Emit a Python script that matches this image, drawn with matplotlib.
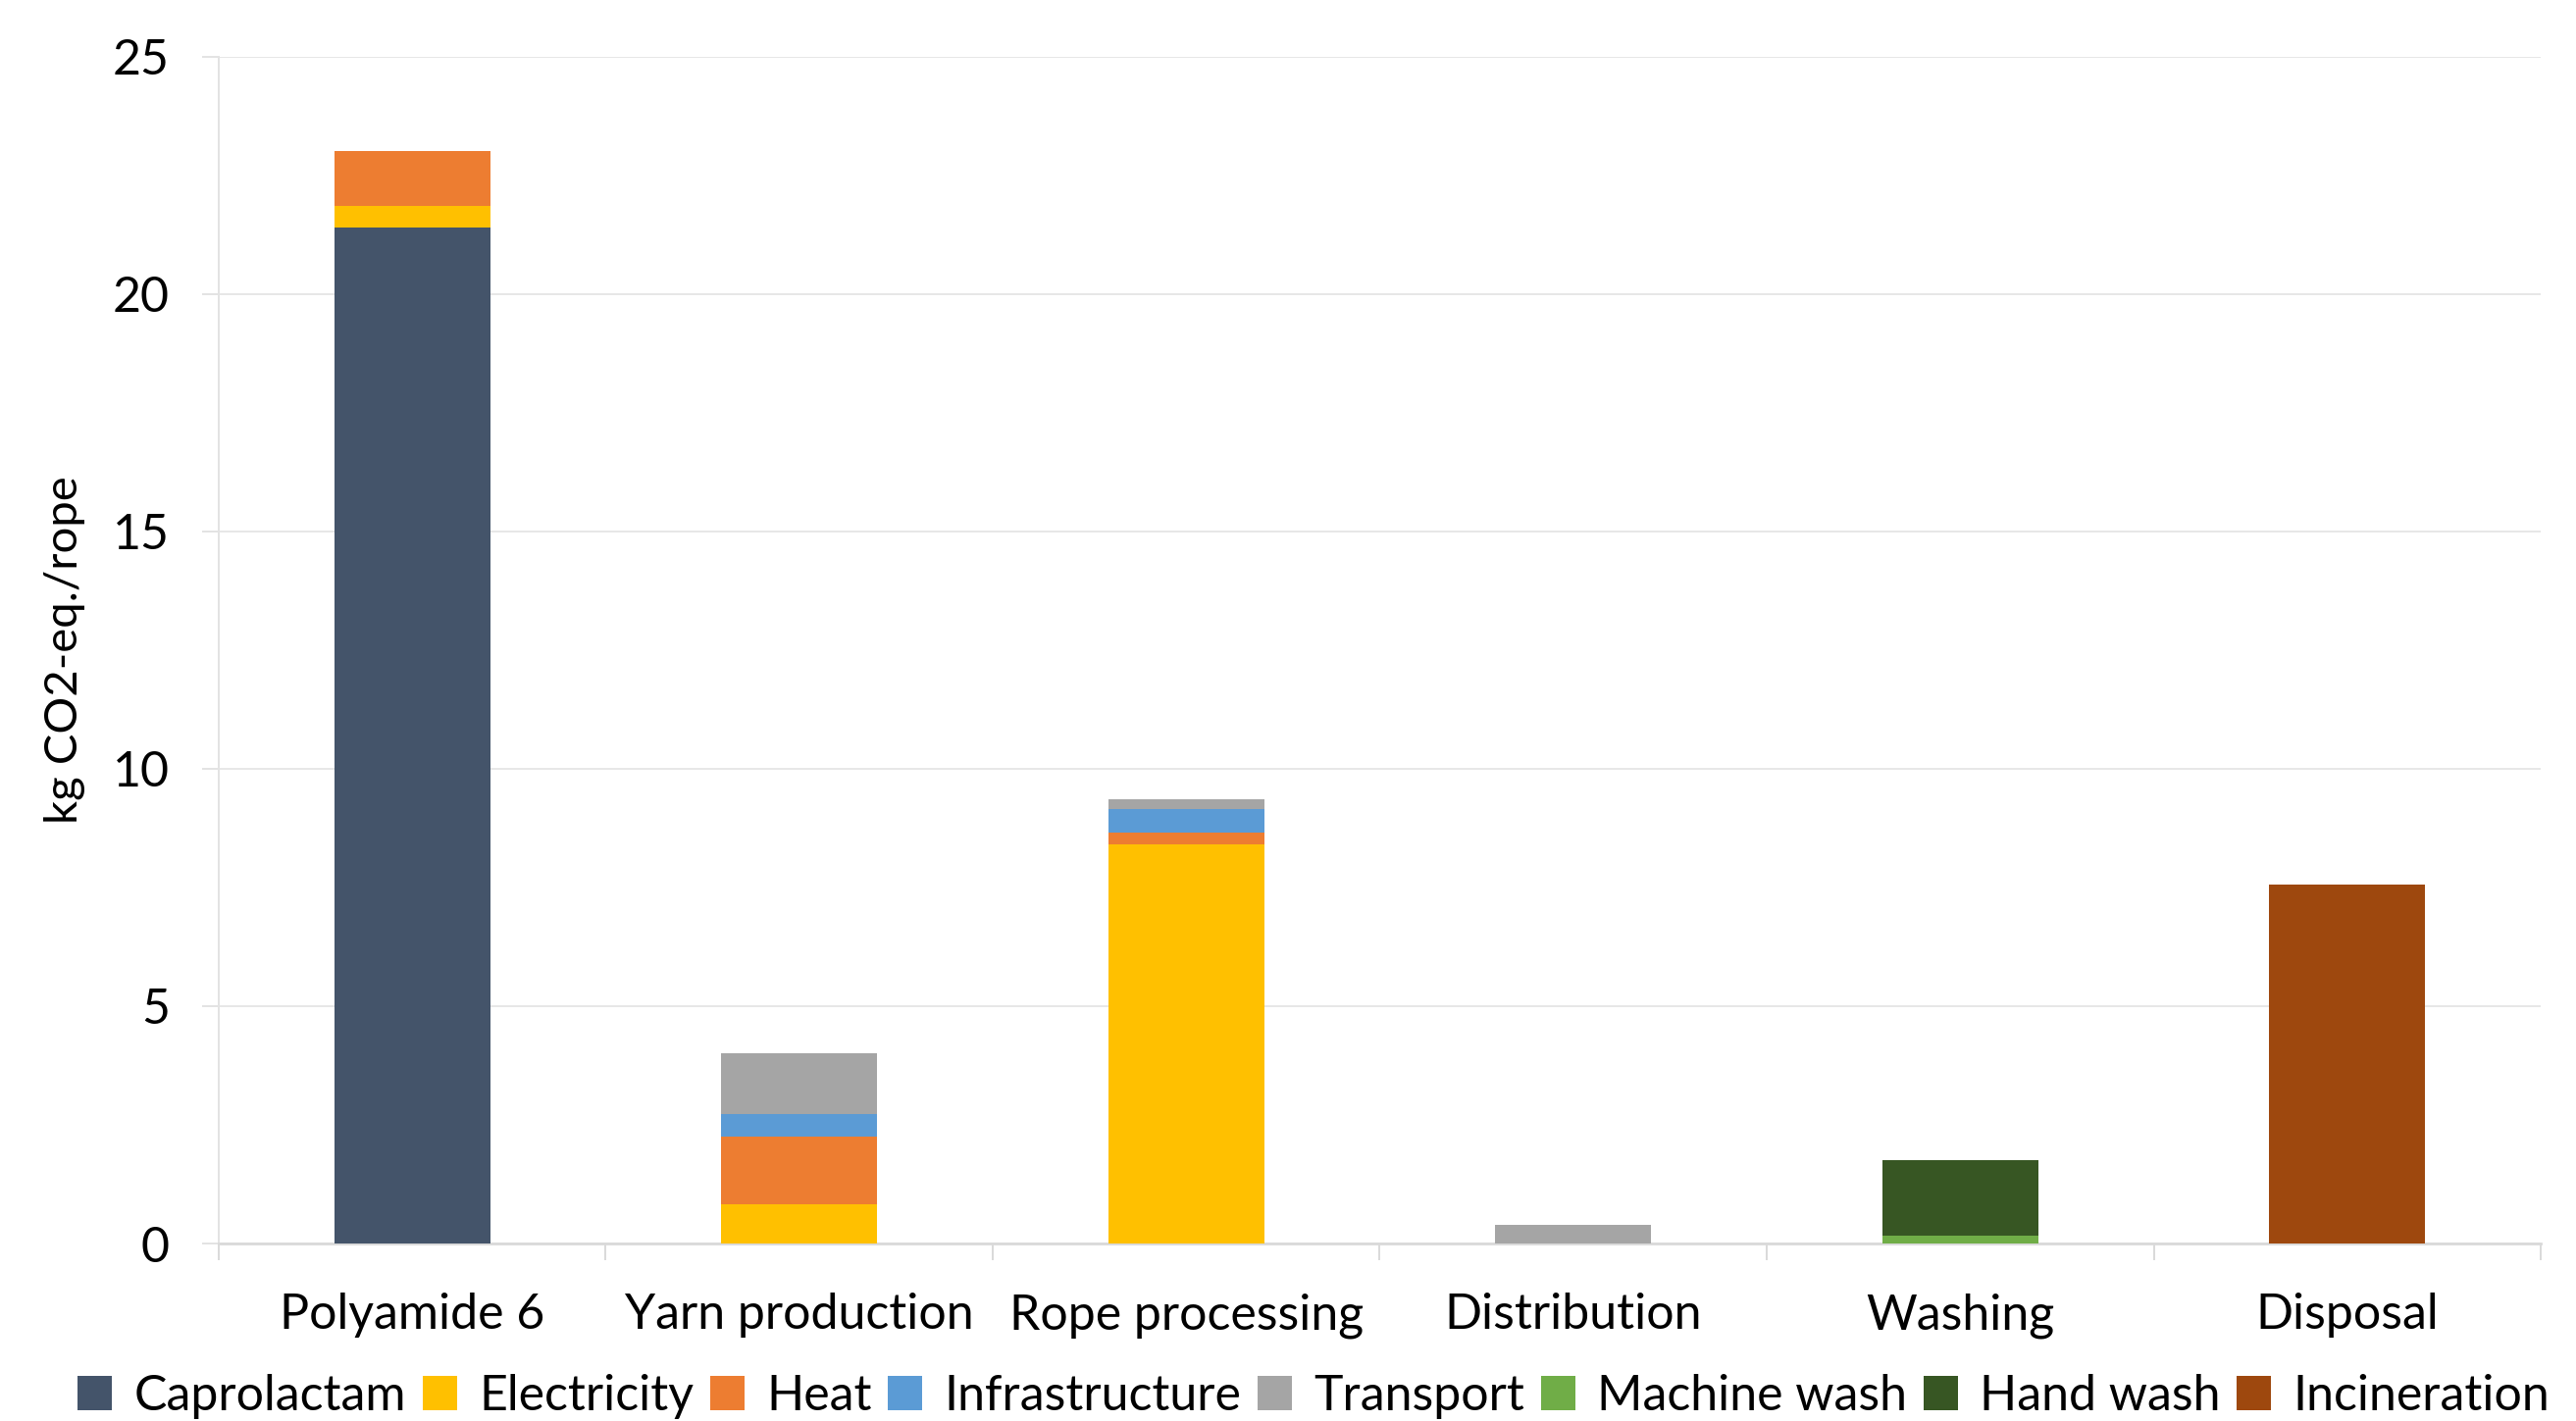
import numpy as np
import matplotlib.pyplot as plt

# categories and stacked series (kg CO2-eq./rope)
categories = ['Polyamide 6', 'Yarn production', 'Rope processing', 'Distribution', 'Washing', 'Disposal']
caprolactam = [21.39, 0, 0, 0, 0, 0]
electricity = [0.47, 0.83, 8.40, 0, 0, 0]
heat = [1.15, 1.42, 0.25, 0, 0, 0]
infrastructure = [0, 0.48, 0.49, 0, 0, 0]
transport = [0, 1.28, 0.21, 0.40, 0, 0]
machine_wash = [0, 0, 0, 0, 0.16, 0]
hand_wash = [0, 0, 0, 0, 1.60, 0]
incineration = [0, 0, 0, 0, 0, 7.56]

series_names = ['Caprolactam', 'Electricity', 'Heat', 'Infrastructure', 'Transport',
                'Machine wash', 'Hand wash', 'Incineration']
series_values = [caprolactam, electricity, heat, infrastructure, transport,
                 machine_wash, hand_wash, incineration]
colors = ['#44546A', '#FFC000', '#ED7D31', '#5B9BD5', '#A5A5A5',
          '#70AD47', '#375623', '#9E480E']

plt.rcParams['font.family'] = ['Lato', 'DejaVu Sans']

fig = plt.figure(figsize=(13.13, 7.245), dpi=200)
ax = fig.add_axes([0.0849, 0.1249, 0.9014, 0.8354])

x = np.arange(len(categories))
bottom = np.zeros(len(categories))
for name, vals, col in zip(series_names, series_values, colors):
    vals = np.array(vals)
    ax.bar(x, vals, width=0.403, bottom=bottom, color=col, label=name, zorder=3)
    bottom += vals

ax.set_xlim(-0.5, len(categories) - 0.5)
ax.set_ylim(0, 25)
ax.set_yticks(np.arange(0, 26, 5))
ax.grid(axis='y', color='#E3E3E3', linewidth=0.6, zorder=0)

ax.set_xticks(x)
ax.set_xticklabels(categories, fontsize=18)
ax.set_xticks(np.arange(-0.5, len(categories)), minor=True)
ax.tick_params(axis='x', which='major', length=0, pad=18)
ax.tick_params(axis='x', which='minor', length=6, width=0.7, color='#D9D9D9')
ax.tick_params(axis='y', labelsize=18, length=6, width=0.7, color='#E3E3E3', pad=12)

for side in ['top', 'right']:
    ax.spines[side].set_visible(False)
ax.spines['left'].set_color('#E3E3E3')
ax.spines['left'].set_linewidth(0.7)
ax.spines['bottom'].set_color('#D9D9D9')
ax.spines['bottom'].set_linewidth(1.0)

ax.set_ylabel('kg CO2-eq./rope', fontsize=17, labelpad=10)

fig.legend(loc='lower center', bbox_to_anchor=(0.51, -0.03), ncol=8, frameon=False,
           fontsize=18, handlelength=0.7, handleheight=0.7, handletextpad=0.45,
           columnspacing=0.33)

fig.savefig('out.png', dpi=200)
